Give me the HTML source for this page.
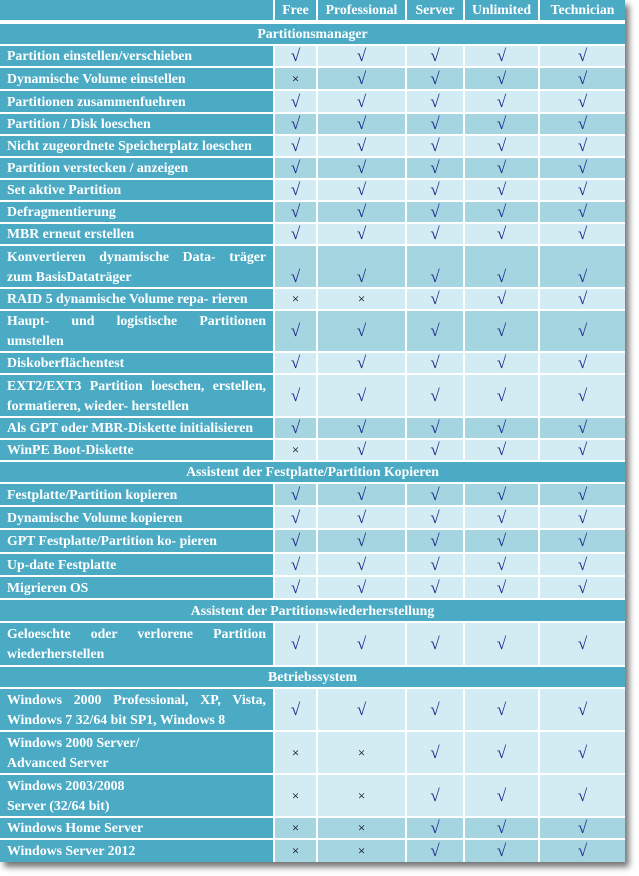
<!DOCTYPE html>
<html><head><meta charset="utf-8"><style>
body{margin:0;background:#fff;width:639px;height:876px;overflow:hidden}
table{position:absolute;left:0;top:0;width:625px;border-collapse:separate;border-spacing:0;table-layout:fixed;box-shadow:4px 5px 6px rgba(0,0,0,.55);font-family:"Liberation Serif",serif;font-weight:bold;font-size:13.8px;color:#fff}
td{padding:0;border-right:2px solid #fff;border-bottom:2px solid #fff;text-align:center;vertical-align:middle;line-height:20px;background:#4babc5;overflow:hidden}
td:last-child{border-right:none}
td.l{text-align:justify;padding:0 7px;text-align-last:left}
td.c{background:#d3ebf2;color:#1a2a8a;font-size:17px;font-weight:normal}
tr.d td.c{background:#a6d5e2}
td.c.x{color:#000;font-size:13px}
tr.h td{border-bottom:4px solid #fff}
tr:last-child td{border-bottom:none}
td.s{border-right:none}
.j{display:block;text-align:justify;text-align-last:justify}
</style></head><body>
<table>
<colgroup><col style="width:275px"><col style="width:43px"><col style="width:89px"><col style="width:58px"><col style="width:75px"><col style="width:85px"></colgroup>
<tr class="h" style="height:24px"><td></td><td>Free</td><td>Professional</td><td>Server</td><td>Unlimited</td><td>Technician</td></tr>
<tr style="height:22px"><td colspan="6" class="s">Partitionsmanager</td></tr>
<tr style="height:22px"><td class="l">Partition einstellen/verschieben</td><td class="c">√</td><td class="c">√</td><td class="c">√</td><td class="c">√</td><td class="c">√</td></tr>
<tr class="d" style="height:23px"><td class="l">Dynamische Volume einstellen</td><td class="c x">×</td><td class="c">√</td><td class="c">√</td><td class="c">√</td><td class="c">√</td></tr>
<tr style="height:23px"><td class="l">Partitionen zusammenfuehren</td><td class="c">√</td><td class="c">√</td><td class="c">√</td><td class="c">√</td><td class="c">√</td></tr>
<tr class="d" style="height:22px"><td class="l">Partition / Disk loeschen</td><td class="c">√</td><td class="c">√</td><td class="c">√</td><td class="c">√</td><td class="c">√</td></tr>
<tr style="height:22px"><td class="l">Nicht zugeordnete Speicherplatz loeschen</td><td class="c">√</td><td class="c">√</td><td class="c">√</td><td class="c">√</td><td class="c">√</td></tr>
<tr class="d" style="height:22px"><td class="l">Partition verstecken / anzeigen</td><td class="c">√</td><td class="c">√</td><td class="c">√</td><td class="c">√</td><td class="c">√</td></tr>
<tr style="height:22px"><td class="l">Set aktive Partition</td><td class="c">√</td><td class="c">√</td><td class="c">√</td><td class="c">√</td><td class="c">√</td></tr>
<tr class="d" style="height:22px"><td class="l">Defragmentierung</td><td class="c">√</td><td class="c">√</td><td class="c">√</td><td class="c">√</td><td class="c">√</td></tr>
<tr style="height:21px"><td class="l">MBR erneut erstellen</td><td class="c">√</td><td class="c">√</td><td class="c">√</td><td class="c">√</td><td class="c">√</td></tr>
<tr class="d" style="height:43px"><td class="l"><span class="j">Konvertieren dynamische Data- träger</span>zum BasisDataträger</td><td class="c" style="vertical-align:bottom">√</td><td class="c" style="vertical-align:bottom">√</td><td class="c" style="vertical-align:bottom">√</td><td class="c" style="vertical-align:bottom">√</td><td class="c" style="vertical-align:bottom">√</td></tr>
<tr style="height:21px"><td class="l">RAID 5 dynamische Volume repa- rieren</td><td class="c x">×</td><td class="c x">×</td><td class="c">√</td><td class="c">√</td><td class="c">√</td></tr>
<tr class="d" style="height:42px"><td class="l">Haupt- und logistische Partitionen umstellen</td><td class="c">√</td><td class="c">√</td><td class="c">√</td><td class="c">√</td><td class="c">√</td></tr>
<tr style="height:22px"><td class="l">Diskoberflächentest</td><td class="c">√</td><td class="c">√</td><td class="c">√</td><td class="c">√</td><td class="c">√</td></tr>
<tr style="height:43px"><td class="l">EXT2/EXT3 Partition loeschen, erstellen, formatieren, wieder- herstellen</td><td class="c">√</td><td class="c">√</td><td class="c">√</td><td class="c">√</td><td class="c">√</td></tr>
<tr class="d" style="height:22px"><td class="l">Als GPT oder MBR-Diskette initialisieren</td><td class="c">√</td><td class="c">√</td><td class="c">√</td><td class="c">√</td><td class="c">√</td></tr>
<tr style="height:22px"><td class="l">WinPE Boot-Diskette</td><td class="c x">×</td><td class="c">√</td><td class="c">√</td><td class="c">√</td><td class="c">√</td></tr>
<tr style="height:22px"><td colspan="6" class="s">Assistent der Festplatte/Partition Kopieren</td></tr>
<tr class="d" style="height:23px"><td class="l">Festplatte/Partition kopieren</td><td class="c">√</td><td class="c">√</td><td class="c">√</td><td class="c">√</td><td class="c">√</td></tr>
<tr style="height:23px"><td class="l">Dynamische Volume kopieren</td><td class="c">√</td><td class="c">√</td><td class="c">√</td><td class="c">√</td><td class="c">√</td></tr>
<tr class="d" style="height:24px"><td class="l">GPT Festplatte/Partition ko- pieren</td><td class="c">√</td><td class="c">√</td><td class="c">√</td><td class="c">√</td><td class="c">√</td></tr>
<tr style="height:23px"><td class="l">Up-date Festplatte</td><td class="c">√</td><td class="c">√</td><td class="c">√</td><td class="c">√</td><td class="c">√</td></tr>
<tr style="height:23px"><td class="l">Migrieren OS</td><td class="c">√</td><td class="c">√</td><td class="c">√</td><td class="c">√</td><td class="c">√</td></tr>
<tr style="height:23px"><td colspan="6" class="s">Assistent der Partitionswiederherstellung</td></tr>
<tr style="height:44px"><td class="l">Geloeschte oder verlorene Partition wiederherstellen</td><td class="c">√</td><td class="c">√</td><td class="c">√</td><td class="c">√</td><td class="c">√</td></tr>
<tr style="height:22px"><td colspan="6" class="s">Betriebssystem</td></tr>
<tr style="height:43px"><td class="l">Windows 2000 Professional, XP, Vista, Windows 7 32/64 bit SP1, Windows 8</td><td class="c">√</td><td class="c">√</td><td class="c">√</td><td class="c">√</td><td class="c">√</td></tr>
<tr style="height:43px"><td class="l">Windows 2000 Server/<br>Advanced Server</td><td class="c x">×</td><td class="c x">×</td><td class="c">√</td><td class="c">√</td><td class="c">√</td></tr>
<tr style="height:43px"><td class="l">Windows 2003/2008<br>Server (32/64 bit)</td><td class="c x">×</td><td class="c x">×</td><td class="c">√</td><td class="c">√</td><td class="c">√</td></tr>
<tr class="d" style="height:22px"><td class="l">Windows Home Server</td><td class="c x">×</td><td class="c x">×</td><td class="c">√</td><td class="c">√</td><td class="c">√</td></tr>
<tr class="d" style="height:22px"><td class="l">Windows Server 2012</td><td class="c x">×</td><td class="c x">×</td><td class="c">√</td><td class="c">√</td><td class="c">√</td></tr>
</table>
</body></html>
